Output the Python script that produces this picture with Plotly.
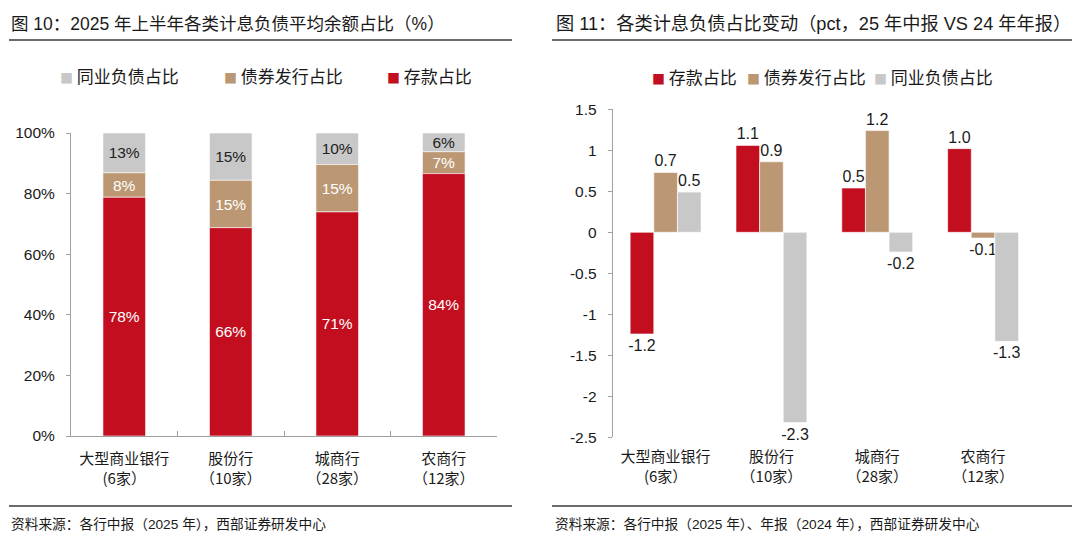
import numpy as np
import plotly.graph_objects as go

# -------------------- Data
categories = ["大型商业银行<br>(6家）", "股份行<br>（10家）", "城商行<br>（28家）", "农商行<br>（12家）"]

# Fig 10: share of interest-bearing liabilities (%), as labelled
deposit_share = [78, 66, 71, 84]
bond_share = [8, 15, 15, 7]
interbank_share = [13, 15, 10, 6]

# Fig 11: change in share (pct, 25H1 vs 24Y)
deposit_chg = [-1.24, 1.06, 0.54, 1.02]
bond_chg = [0.73, 0.86, 1.24, -0.07]
interbank_chg = [0.49, -2.32, -0.24, -1.33]

y1_tickvals = [0, 20, 40, 60, 80, 100]
y1_ticktext = ["0%", "20%", "40%", "60%", "80%", "100%"]
y2_tickvals = [1.5, 1, 0.5, 0, -0.5, -1, -1.5, -2, -2.5]
y2_ticktext = ["1.5", "1", "0.5", "0", "-0.5", "-1", "-1.5", "-2", "-2.5"]

RED = "#C20E1E"
BROWN = "#BB9873"
GRAY = "#C8C8C8"
AXIS = "#A0A0A0"
FONT = "Liberation Sans, Noto Sans CJK SC, sans-serif"
CJK = "Noto Sans CJK SC, Liberation Sans, sans-serif"

# The page body keeps its default 8px margin, so the figure is sized and
# positioned to land on the 1080x542 window pixels.
OFF = 8
W, H = 1080 - OFF, 542 - OFF


def px_x(v):
    return (max(v, OFF + 1) - OFF) / W


def px_y(v):
    return 1 - (v - OFF) / H


# Bars are normalised to 100% (labels are the raw shares)
dep = np.array(deposit_share, dtype=float)
bnd = np.array(bond_share, dtype=float)
itb = np.array(interbank_share, dtype=float)
total = dep + bnd + itb
dep_n, bnd_n, itb_n = dep / total * 100, bnd / total * 100, itb / total * 100

fig = go.Figure()

# -------------------- Left: stacked shares
stack = [
    ("同业负债占比", itb_n, dep_n + bnd_n, interbank_share, GRAY, "#222222"),
    ("债券发行占比", bnd_n, dep_n, bond_share, BROWN, "white"),
    ("存款占比", dep_n, np.zeros(4), deposit_share, RED, "white"),
]
for name, vals, base, labels, color, tcolor in stack:
    fig.add_trace(go.Bar(
        x=categories, y=vals, base=base, name=name,
        xaxis="x", yaxis="y", offsetgroup="stack", width=0.4, offset=-0.2,
        marker=dict(color=color, line=dict(color="white", width=0.6)),
        text=[f"{v}%" for v in labels], textposition="inside",
        insidetextanchor="middle", constraintext="none",
        textfont=dict(family=FONT, size=15.5, color=tcolor),
        hoverinfo="skip", showlegend=False,
    ))

# -------------------- Right: grouped changes
for name, vals, color in [
    ("存款占比", deposit_chg, RED),
    ("债券发行占比", bond_chg, BROWN),
    ("同业负债占比", interbank_chg, GRAY),
]:
    fig.add_trace(go.Bar(
        x=categories, y=vals, name=name, xaxis="x2", yaxis="y2",
        marker=dict(color=color, line=dict(color="white", width=0.6)),
        text=[f"{v:.1f}" for v in vals], textposition="outside",
        constraintext="none", cliponaxis=False,
        textfont=dict(family=FONT, size=16, color="#1a1a1a"),
        hoverinfo="skip", showlegend=False,
    ))

tick_font = dict(family=FONT, size=15.5, color="#1a1a1a")
cat_font = dict(family=CJK, size=15, color="#1a1a1a")

y2_lo, y2_hi = px_y(437.3), px_y(109.3)
zero_pos = y2_lo + (0 - (-2.5)) / 4.0 * (y2_hi - y2_lo)

fig.update_layout(
    width=W, height=H,
    margin=dict(l=0, r=0, t=0, b=0, pad=0),
    paper_bgcolor="white", plot_bgcolor="white",
    barmode="group", bargap=0.33, bargroupgap=0,
    uniformtext=dict(minsize=15, mode="show"),
    showlegend=False,
    xaxis=dict(
        domain=[px_x(71), px_x(497)], anchor="y", type="category",
        range=[-0.5, 3.5], showline=True, linecolor=AXIS, linewidth=1,
        ticks="inside", tickson="boundaries", ticklen=5, tickcolor=AXIS,
        tickfont=cat_font, showgrid=False, automargin=False,
        ticklabelstandoff=9,
    ),
    yaxis=dict(
        domain=[px_y(436), px_y(133)], anchor="x", range=[0, 100],
        tickvals=y1_tickvals, ticktext=y1_ticktext,
        showline=True, linecolor=AXIS, linewidth=1, ticks="outside",
        ticklen=4, tickcolor=AXIS, ticklabelstandoff=8,
        tickfont=tick_font, showgrid=False, zeroline=False,
        automargin=False,
    ),
    xaxis2=dict(
        domain=[px_x(612.7), px_x(1036)], anchor="y2", type="category",
        range=[-0.5, 3.5], showline=False, ticks="",
        tickfont=cat_font, showgrid=False, automargin=False,
        ticklabelstandoff=9,
    ),
    xaxis3=dict(
        overlaying="x2", anchor="free", position=zero_pos,
        range=[-0.5, 3.5], tickvals=[0.5, 1.5, 2.5, 3.5],
        showticklabels=False, showline=True, linecolor=AXIS, linewidth=1,
        ticks="inside", ticklen=5, tickcolor=AXIS, showgrid=False,
        zeroline=False, automargin=False,
    ),
    yaxis2=dict(
        domain=[y2_lo, y2_hi], anchor="x2", range=[-2.5, 1.5],
        tickvals=y2_tickvals, ticktext=y2_ticktext,
        showline=True, linecolor=AXIS, linewidth=1, ticks="outside",
        ticklen=4, tickcolor=AXIS, ticklabelstandoff=8,
        tickfont=tick_font, showgrid=False, zeroline=False,
        automargin=False,
    ),
)

# -------------------- Titles, rules, sources
texts = [
    (6, 24, "图 10：2025 年上半年各类计息负债平均余额占比（%）", 17.5),
    (554, 24, "图 11：各类计息负债占比变动（pct，25 年中报 VS 24 年年报）", 18.2),
    (5, 524, "资料来源：各行中报（2025 年），西部证券研发中心", 13.7),
    (553, 524, "资料来源：各行中报（2025 年）、年报（2024 年），西部证券研发中心", 13.7),
]
for x, y, t, s in texts:
    fig.add_annotation(
        x=px_x(x), y=px_y(y), xref="paper", yref="paper", text=t,
        showarrow=False, xanchor="left", yanchor="middle",
        font=dict(family=FONT, size=s, color="#1a1a1a"),
    )

for x0, x1 in [(3, 512), (552, 1080)]:
    for y in (40, 506):
        fig.add_shape(
            type="line", xref="paper", yref="paper",
            x0=px_x(x0), x1=px_x(x1), y0=px_y(y), y1=px_y(y),
            line=dict(color="#3a3a3a", width=1.5),
        )

# -------------------- Legends
legend_items = [
    (60, 76, "同业负债占比", GRAY),
    (224, 76, "债券发行占比", BROWN),
    (387, 76, "存款占比", RED),
    (652, 77, "存款占比", RED),
    (747, 77, "债券发行占比", BROWN),
    (874, 77, "同业负债占比", GRAY),
]
for x, y, t, c in legend_items:
    fig.add_annotation(
        x=px_x(x - 2), y=px_y(y), xref="paper", yref="paper",
        text=f'<span style="color:{c};font-size:13px">■</span> {t}',
        showarrow=False, xanchor="left", yanchor="middle",
        font=dict(family=CJK, size=17, color="#1a1a1a"),
    )

fig.write_html("out.html")
